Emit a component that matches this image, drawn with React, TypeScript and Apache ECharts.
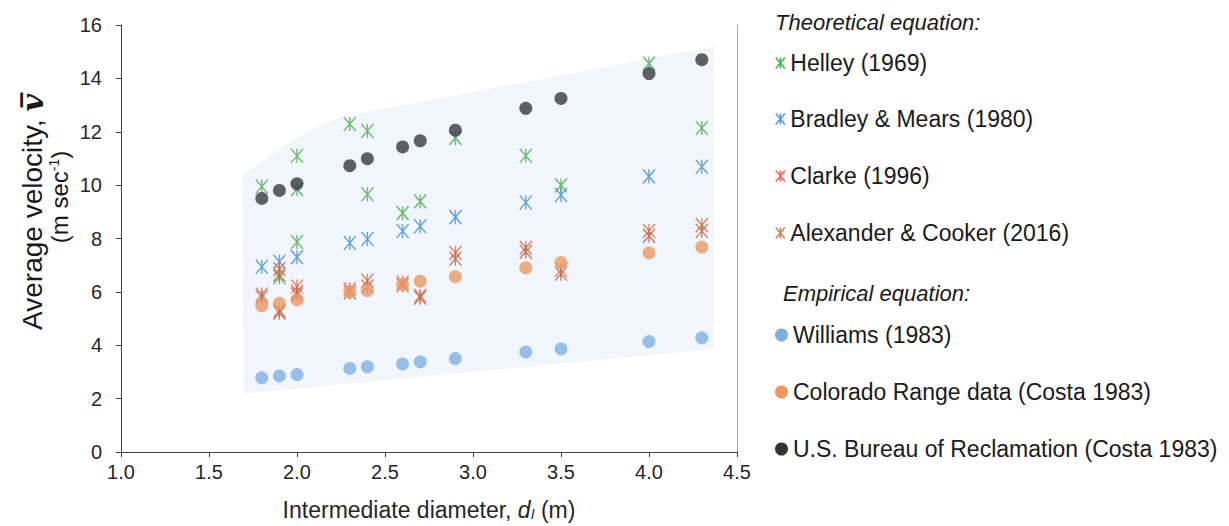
import React, { useEffect, useRef } from "react";
import * as echarts from "echarts";

const FONT = "Liberation Sans, Arial, sans-serif";

// x values (intermediate diameter, m)
const diameters = [1.8, 1.9, 2.0, 2.3, 2.4, 2.6, 2.7, 2.9, 3.3, 3.5, 4.0, 4.3];

// Empirical equations
const williams = [2.78, 2.85, 2.9, 3.13, 3.19, 3.3, 3.38, 3.5, 3.75, 3.86, 4.14, 4.28];
const colorado = [5.48, 5.57, 5.7, 6.0, 6.05, 6.27, 6.4, 6.57, 6.9, 7.1, 7.46, 7.68];
const usbr = [9.5, 9.8, 10.05, 10.73, 10.99, 11.43, 11.66, 12.06, 12.88, 13.25, 14.18, 14.7];

// Theoretical equations
const helleyX = [1.8, 1.9, 2.0, 2.0, 2.0, 2.3, 2.4, 2.4, 2.6, 2.7, 2.9, 3.3, 3.5, 4.0, 4.3];
const helleyY = [9.95, 6.55, 11.1, 9.85, 7.87, 12.29, 12.03, 9.66, 8.95, 9.39, 11.77, 11.1, 9.99, 14.55, 12.14];
const bradley = [6.94, 7.13, 7.3, 7.83, 7.98, 8.28, 8.46, 8.8, 9.35, 9.63, 10.33, 10.69];
const clarkeX = [1.8, 1.9, 1.9, 2.0, 2.0, 2.3, 2.4, 2.6, 2.7, 2.9, 3.3, 3.5, 4.0, 4.3];
const clarkeY = [5.9, 6.85, 5.3, 6.2, 6.0, 6.1, 6.42, 6.35, 5.85, 7.46, 7.65, 6.82, 8.28, 8.5];
const alexX = [1.8, 1.9, 1.9, 2.0, 2.3, 2.4, 2.6, 2.7, 2.9, 3.3, 3.5, 4.0, 4.3];
const alexY = [5.8, 6.65, 5.22, 5.9, 5.98, 6.2, 6.25, 5.78, 7.24, 7.5, 6.68, 8.1, 8.28];

// Shaded envelope
const envX = [1.69, 1.9, 2.09, 2.25, 4.37, 4.37, 1.7];
const envY = [10.35, 11.35, 12.1, 12.55, 15.2, 3.86, 2.19];

const xTicks = { min: 1.0, max: 4.5, interval: 0.5 };
const yTicks = { min: 0, max: 16, interval: 2 };

const ASTER = "path://M0,0L10,12M10,0L0,12M5,0L5,12";

const pairs = (xs: number[], ys: number[]) => xs.map((x, i) => [x, ys[i]]);

type Entry = { name: string; data: number[][]; plotColor: string; legendColor: string; star: boolean; y: number };

const entries: Entry[] = [
  { name: "Helley (1969)", data: pairs(helleyX, helleyY), plotColor: "#4cae4c", legendColor: "#1e9e1e", star: true, y: 62 },
  { name: "Bradley & Mears (1980)", data: pairs(diameters, bradley), plotColor: "#3f8fd6", legendColor: "#2680d4", star: true, y: 118 },
  { name: "Clarke (1996)", data: pairs(clarkeX, clarkeY), plotColor: "#e8644a", legendColor: "#ff4020", star: true, y: 175 },
  { name: "Alexander & Cooker (2016)", data: pairs(alexX, alexY), plotColor: "#b86d45", legendColor: "#c0632a", star: true, y: 232 },
  { name: "Williams (1983)", data: pairs(diameters, williams), plotColor: "#80b0e3", legendColor: "#5b9bd5", star: false, y: 335 },
  { name: "Colorado Range data (Costa 1983)", data: pairs(diameters, colorado), plotColor: "#eb9a63", legendColor: "#ed7d31", star: false, y: 392 },
  { name: "U.S. Bureau of Reclamation (Costa 1983)", data: pairs(diameters, usbr), plotColor: "#3a3c3f", legendColor: "#000000", star: false, y: 449 },
];

export default function App() {
  const ref = useRef<HTMLDivElement>(null);
  useEffect(() => {
    if (!ref.current) return;
    const chart = echarts.init(ref.current, undefined, { renderer: "svg" });
    const axisColor = "#404040";
    const series: any[] = [
      {
        type: "custom",
        silent: true,
        z: 0,
        clip: false,
        data: pairs(envX, envY),
        renderItem: (params: any, api: any) => {
          if (params.dataIndex !== 0) return null;
          const pts = envX.map((x, i) => api.coord([x, envY[i]]));
          return { type: "polygon", shape: { points: pts }, style: { fill: "#f0f6fb" } };
        },
      },
      ...entries.map((e) => ({
        type: "scatter",
        name: e.name,
        data: e.data,
        z: e.star ? 2 : 3,
        symbol: e.star ? ASTER : "circle",
        symbolSize: e.star ? [12, 14] : 13,
        itemStyle: e.star
          ? { color: e.plotColor, borderColor: e.plotColor, borderWidth: 1.5 }
          : { color: e.plotColor, borderWidth: 0 },
      })),
    ];
    const legends = entries.map((e) => ({
      left: 775,
      top: e.y - 5 - (e.star ? 5.5 : 6.5),
      orient: "vertical",
      padding: 0,
      itemGap: 0,
      itemWidth: e.star ? 10 : 13,
      itemHeight: e.star ? 11 : 13,
      selectedMode: false,
      data: [
        {
          name: e.name,
          icon: e.star ? ASTER : "circle",
          itemStyle: e.star
            ? { color: e.legendColor, borderColor: e.legendColor, borderWidth: 1.5 }
            : { color: e.legendColor, borderWidth: 0 },
        },
      ],
      textStyle: { fontSize: 23, color: "#1a1a1a", fontFamily: FONT, padding: [0, 0, 0, 0] },
    }));
    chart.setOption({
      animation: false,
      grid: { left: 121, right: 492, top: 25, bottom: 70 },
      xAxis: {
        type: "value",
        min: xTicks.min,
        max: xTicks.max,
        interval: xTicks.interval,
        axisLine: { show: true, onZero: false, lineStyle: { color: axisColor } },
        axisTick: { show: true, length: 5, lineStyle: { color: axisColor } },
        axisLabel: { formatter: (v: number) => v.toFixed(1), fontSize: 20, color: "#262626", margin: 10, fontFamily: FONT },
        splitLine: { show: false },
        name: "Intermediate diameter, {i|d}{sub|I} (m)",
        nameLocation: "middle",
        nameGap: 46,
        nameTextStyle: {
          fontSize: 23,
          color: "#262626",
          fontFamily: FONT,
          rich: {
            i: { fontSize: 23, fontStyle: "italic", fontFamily: FONT, color: "#262626" },
            sub: { fontSize: 14, fontStyle: "italic", fontFamily: FONT, color: "#262626", verticalAlign: "bottom" },
          },
        },
      },
      yAxis: [
        {
          type: "value",
          min: yTicks.min,
          max: yTicks.max,
          interval: yTicks.interval,
          axisLine: { show: true, lineStyle: { color: axisColor } },
          axisTick: { show: true, length: 5, lineStyle: { color: axisColor } },
          axisLabel: { fontSize: 20, color: "#262626", margin: 19, fontFamily: FONT },
          splitLine: { show: false },
        },
        {
          type: "value",
          position: "right",
          min: yTicks.min,
          max: yTicks.max,
          interval: yTicks.interval,
          axisLine: { show: true, lineStyle: { color: "#a6a6a6" } },
          axisTick: { show: false },
          axisLabel: { show: false },
          splitLine: { show: false },
        },
      ],
      legend: legends,
      graphic: [
        {
          type: "text",
          x: 32,
          y: 212,
          rotation: Math.PI / 2,
          style: {
            text: "Average velocity, {v|v\u0305}",
            fontSize: 28,
            fontFamily: FONT,
            fill: "#1a1a1a",
            align: "center",
            verticalAlign: "middle",
            rich: {
              v: { fontSize: 30, fontStyle: "italic", fontWeight: "bold", fontFamily: "DejaVu Serif, serif", fill: "#1a1a1a" },
            },
          },
        },
        {
          type: "text",
          x: 59,
          y: 197,
          rotation: Math.PI / 2,
          style: {
            text: "(m sec{sup|-1})",
            fontSize: 24,
            fontFamily: FONT,
            fill: "#1a1a1a",
            align: "center",
            verticalAlign: "middle",
            rich: { sup: { fontSize: 14, fontFamily: FONT, fill: "#1a1a1a", verticalAlign: "top" } },
          },
        },
        {
          type: "text",
          x: 775,
          y: 22,
          style: { text: "Theoretical equation:", fontSize: 22, fontStyle: "italic", fontFamily: FONT, fill: "#1a1a1a", verticalAlign: "middle" },
        },
        {
          type: "text",
          x: 783,
          y: 293,
          style: { text: "Empirical equation:", fontSize: 22, fontStyle: "italic", fontFamily: FONT, fill: "#1a1a1a", verticalAlign: "middle" },
        },
      ],
      series,
    });
    return () => chart.dispose();
  }, []);
  return <div ref={ref} style={{ position: "absolute", left: 0, top: 0, width: 1229, height: 526 }} />;
}
